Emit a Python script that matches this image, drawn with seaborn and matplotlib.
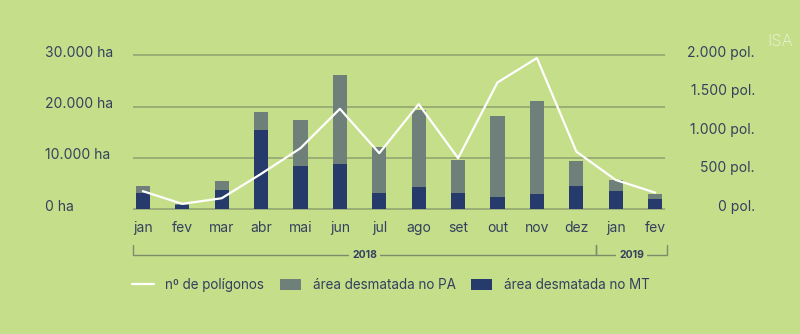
import matplotlib
matplotlib.use("Agg")
import matplotlib.pyplot as plt
import matplotlib.transforms as mtransforms
from matplotlib.lines import Line2D
from matplotlib.patches import Patch
import seaborn as sns
import pandas as pd

months = ["jan", "fev", "mar", "abr", "mai", "jun", "jul", "ago", "set", "out", "nov", "dez", "jan", "fev"]
area_total = [4530, 1050, 5510, 19000, 17370, 26260, 12060, 19400, 9630, 18280, 21210, 9375, 5720, 2930]
area_mt = [3110, 800, 3760, 15490, 8420, 8750, 3240, 4300, 3120, 2460, 2930, 4610, 3630, 2070]
poligonos = [235, 70, 143, 460, 794, 1306, 729, 1367, 664, 1649, 1966, 750, 381, 216]
left_ticks = [0, 10000, 20000, 30000]
left_labels = ["0 ha", "10.000 ha", "20.000 ha", "30.000 ha"]
right_ticks = [0, 500, 1000, 1500, 2000]
right_labels = ["0 pol.", "500 pol.", "1.000 pol.", "1.500 pol.", "2.000 pol."]

BG = "#c5de8a"
NAVY = "#263b6b"
GREY = "#6f7f79"
GRID = "#8fa070"
TXT = "#34405e"

sns.set_theme(style="white")
plt.rcParams["font.family"] = ["Inter", "DejaVu Sans"]

df = pd.DataFrame({"idx": range(len(months)), "total": area_total, "mt": area_mt, "pol": poligonos})

fig = plt.figure(figsize=(8, 3.34), dpi=100)
fig.patch.set_facecolor(BG)
ax = fig.add_axes([133 / 800, 0.3689, 532 / 800, 0.4697])
ax.set_facecolor(BG)

sns.barplot(data=df, x="idx", y="total", color=GREY, width=0.36, saturation=1, ax=ax, zorder=2, linewidth=0)
sns.barplot(data=df, x="idx", y="mt", color=NAVY, width=0.36, saturation=1, ax=ax, zorder=3, linewidth=0)

ax.set_xlim(-0.25, 13.25)
ax.set_ylim(-300, 30300)
ax.set_yticks(left_ticks)
ax.set_yticklabels(left_labels)
ax.set_xticks(range(len(months)))
ax.set_xticklabels(months)
ax.set_xlabel("")
ax.set_ylabel("")
for s in ax.spines.values():
    s.set_visible(False)
ax.yaxis.grid(True, color=GRID, lw=1.1)
ax.set_axisbelow(True)
ax.tick_params(axis="y", length=0, pad=63.4, labelsize=10, labelcolor=TXT)
ax.tick_params(axis="x", length=0, pad=7.5, labelsize=10, labelcolor=TXT)
for lab in ax.get_yticklabels():
    lab.set_horizontalalignment("left")
    lab.set_transform(lab.get_transform() + mtransforms.ScaledTranslation(0, 4 / 100, fig.dpi_scale_trans))

ax2 = ax.twinx()
ax2.set_position(ax.get_position())
sns.lineplot(data=df, x="idx", y="pol", color="white", lw=1.6, ax=ax2, zorder=4)
ax2.set_ylim(-20, 2020)
ax2.set_yticks(right_ticks)
ax2.set_yticklabels(right_labels)
ax2.set_ylabel("")
for s in ax2.spines.values():
    s.set_visible(False)
ax2.tick_params(axis="y", length=0, pad=64.8, labelsize=10, labelcolor=TXT)
for lab in ax2.get_yticklabels():
    lab.set_horizontalalignment("right")
    lab.set_transform(lab.get_transform() + mtransforms.ScaledTranslation(0, 4 / 100, fig.dpi_scale_trans))
ax2.set_xlim(-0.25, 13.25)

# year brackets
tr = mtransforms.blended_transform_factory(ax.transData, ax.transAxes)
yb, yt = -0.28, -0.215
for x0, x1, label in [(-0.25, 11.5, "2018"), (11.5, 13.3, "2019")]:
    ax.plot([x0, x0, x1, x1], [yt, yb, yb, yt], color="#7d8c6a", lw=1, transform=tr, clip_on=False)
    ax.text((x0 + x1) / 2, yb, label, transform=tr, ha="center", va="center", fontsize=7.5,
            fontweight="bold", color=TXT,
            bbox=dict(facecolor=BG, edgecolor="none", pad=2.5))

handles = [Line2D([], [], color="white", lw=1.6),
           Patch(facecolor=GREY, edgecolor="none"),
           Patch(facecolor=NAVY, edgecolor="none")]
labels = ["nº de polígonos", "área desmatada no PA", "área desmatada no MT"]
leg = fig.legend(handles, labels, loc="center left", bbox_to_anchor=(120 / 800, 1 - 285 / 334), ncol=3,
                 frameon=False, fontsize=9.7, handlelength=1.6, handleheight=0.9, handletextpad=0.85,
                 columnspacing=1.15, labelcolor=TXT)

fig.text(780 / 800, 1 - 42 / 334, "ISA", ha="center", va="center", fontsize=12, color="#eef5dc",
         fontweight="light")

fig.savefig("out.png", dpi=100, facecolor=BG)
